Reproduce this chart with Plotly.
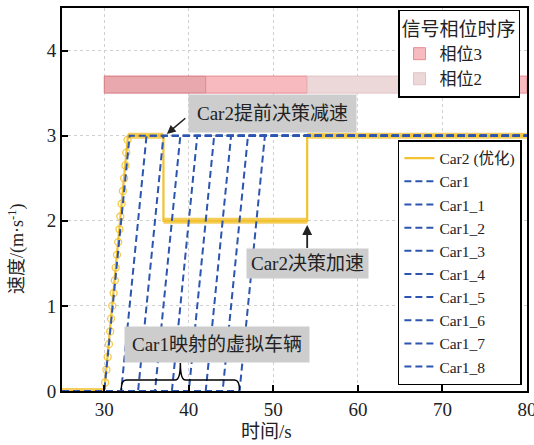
import plotly.graph_objects as go

# ---------------- data ----------------
# Car2 (optimised) speed profile
car2_t = [25, 30, 32.8, 37, 37, 54, 54, 80]
car2_v = [0, 0, 3, 3, 2, 2, 3, 3]

# original Car2 ramp samples (open circles)
car2_ramp_t = [30.1, 30.25, 30.4, 30.55, 30.7, 30.8, 30.95, 31.1, 31.25, 31.35,
               31.5, 31.65, 31.8, 31.9, 32.05, 32.2, 32.35, 32.5, 32.6, 32.75]
car2_ramp_v = [0.1, 0.25, 0.4, 0.55, 0.7, 0.85, 1.0, 1.15, 1.3, 1.45,
               1.6, 1.75, 1.9, 2.05, 2.2, 2.35, 2.5, 2.65, 2.8, 2.95]

# Car1 and its mapped virtual vehicles: start of acceleration / reach cruise
car1_names = ["Car1", "Car1_1", "Car1_2", "Car1_3", "Car1_4",
              "Car1_5", "Car1_6", "Car1_7", "Car1_8"]
car1_start = [30, 32, 34, 36, 38, 40, 42, 44, 46]
car1_reach = [33, 35, 37, 39, 41, 43, 45, 47, 49]
car1_cruise = 3
t_min, t_max = 25, 80

# signal phase timing
phase_name = ["相位3", "相位3", "相位2", "相位3", "相位3"]
phase_start = [30, 42, 54, 66, 78]
phase_end = [42, 54, 66, 78, 80]
phase_level = 3.6

# ---------------- style ----------------
FONT = "Liberation Serif, Times New Roman, Noto Sans CJK SC"
YEL = "#F2C230"
YEL_HL = "rgba(242,190,40,0.75)"
BLUE = "#2B55B0"
phase_fill = ["rgb(232,168,173)", "rgb(247,186,191)", "rgb(236,215,217)",
              "rgb(247,186,191)", "rgb(247,186,191)"]
phase_edge = ["rgb(215,120,128)", "rgb(230,140,148)", "rgb(225,195,198)",
              "rgb(230,140,148)", "rgb(230,140,148)"]

fig = go.Figure()

# signal phase bars (horizontal bars)
shown = set()
for i in range(len(phase_start)):
    nm = phase_name[i]
    show = (nm not in shown) and i > 0
    if show:
        shown.add(nm)
    fig.add_trace(go.Bar(
        y=[phase_level], x=[phase_end[i] - phase_start[i]], base=[phase_start[i]],
        orientation="h", width=0.2, name=nm,
        marker=dict(color=phase_fill[i], line=dict(color=phase_edge[i], width=1)),
        showlegend=show, legend="legend2", hoverinfo="skip"))

# Car2 highlighted horizontal segments
hl_x, hl_y = [], []
for a, b in [(0, 1), (2, 3), (4, 5), (6, 7)]:
    hl_x += [car2_t[a], car2_t[b], None]
    hl_y += [car2_v[a], car2_v[b], None]
fig.add_trace(go.Scatter(x=hl_x, y=hl_y, mode="lines",
                         line=dict(color=YEL_HL, width=6),
                         showlegend=False, hoverinfo="skip"))

# Car2 main line
fig.add_trace(go.Scatter(x=car2_t, y=car2_v, mode="lines", name="Car2 (优化)",
                         line=dict(color=YEL, width=2.2)))

# open circles along ramp
fig.add_trace(go.Scatter(x=car2_ramp_t, y=car2_ramp_v, mode="markers",
                         marker=dict(symbol="circle-open", size=7,
                                     color="rgba(242,190,40,0.85)",
                                     line=dict(width=1.3)),
                         showlegend=False, hoverinfo="skip"))

# Car1 family
for nm, s, r in zip(car1_names, car1_start, car1_reach):
    fig.add_trace(go.Scatter(
        x=[t_min, s, r, t_max], y=[0, 0, car1_cruise, car1_cruise],
        mode="lines", name=nm,
        line=dict(color=BLUE, width=2, dash="7px,4px")))

# brace under virtual vehicles
x0, x1 = car1_start[1], car1_start[-1]
xm = (x0 + x1) / 2
yb, yt, ye = 0.13, 0.33, 0.01
path = (f"M {x0},{ye} Q {x0},{yb} {x0+0.6},{yb} L {xm-0.6},{yb} "
        f"Q {xm},{yb} {xm},{yt} Q {xm},{yb} {xm+0.6},{yb} "
        f"L {x1-0.6},{yb} Q {x1},{yb} {x1},{ye}")
fig.add_shape(type="path", path=path, xref="x", yref="y",
              line=dict(color="black", width=1.5))

BOX = "rgb(205,205,205)"
ann_font = dict(family=FONT, size=19, color="#222")
fig.add_annotation(x=49.9, y=3.26, text="Car2提前决策减速", showarrow=False,
                   bgcolor=BOX, borderpad=8, font=ann_font)
fig.add_annotation(x=37.4, y=3.02, ax=20, ay=-17, text="", showarrow=True,
                   arrowhead=2, arrowsize=1.1, arrowwidth=1.6, arrowcolor="#222")
fig.add_annotation(x=54, y=1.95, ax=0, ay=38, text="Car2决策加速", showarrow=True,
                   arrowhead=2, arrowsize=1.1, arrowwidth=1.8, arrowcolor="#222",
                   bgcolor=BOX, borderpad=4, font=ann_font)
fig.add_annotation(x=43.3, y=0.55, text="Car1映射的虚拟车辆", showarrow=False,
                   bgcolor=BOX, borderpad=7, font=ann_font)

# axis titles as annotations (positioned like reference)
fig.add_annotation(x=0.439, y=-0.107, xref="paper", yref="paper", yanchor="middle",
                   text="时间/s", showarrow=False,
                   font=dict(family=FONT, size=19, color="#222"))
fig.add_annotation(x=-0.097, y=0.373, xref="paper", yref="paper", xanchor="center",
                   text="速度/(m·s<sup>-1</sup>)", textangle=-90, showarrow=False,
                   font=dict(family=FONT, size=18, color="#222"))

axis_common = dict(showline=True, linecolor="black", linewidth=2, mirror=True,
                   ticks="inside", ticklen=6, tickwidth=2, tickcolor="black",
                   showgrid=True, gridcolor="rgb(208,208,208)", griddash="3px,3px",
                   gridwidth=1, zeroline=False, ticklabeloverflow="allow",
                   automargin=False,
                   tickfont=dict(family=FONT, size=19, color="#222"))

fig.update_layout(
    width=534, height=445,
    margin=dict(l=62, r=7, t=8, b=54),
    plot_bgcolor="white", paper_bgcolor="white",
    barmode="overlay",
    xaxis=dict(range=[t_min, t_max], tickvals=[30, 40, 50, 60, 70, 80], **axis_common),
    yaxis=dict(range=[0, 4.5], tickvals=[0, 1, 2, 3, 4], **axis_common),
    legend=dict(x=0.989, y=0.655, xanchor="right", yanchor="top",
                bgcolor="white", bordercolor="black", borderwidth=1.5,
                font=dict(family=FONT, size=15.5, color="#222"),
                tracegroupgap=0, itemwidth=30),
    legend2=dict(x=0.985, y=0.995, xanchor="right", yanchor="top",
                 bgcolor="white", bordercolor="black", borderwidth=1.5,
                 title=dict(text="信号相位时序",
                            font=dict(family=FONT, size=19, color="#222")),
                 font=dict(family=FONT, size=17, color="#222"),
                 itemwidth=30),
    showlegend=True,
)

fig.write_html("out.html", config={"displayModeBar": False},
               post_script="document.body.style.margin='0';"
                           "document.body.style.overflow='hidden';")
